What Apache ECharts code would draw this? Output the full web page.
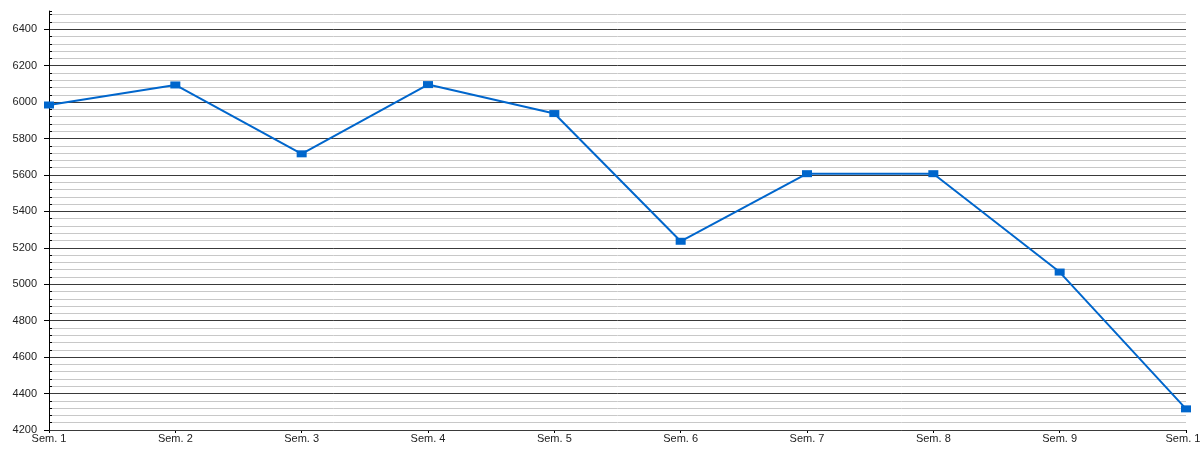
<html lang="en">

<head>
    <meta charset="UTF-8">
    <title>Semaines</title>
    <script src="https://cdn.jsdelivr.net/npm/echarts@6.0.0/dist/echarts.min.js"></script>
    <style>
        html, body { margin: 0; padding: 0; background: #fff; }
        #my-chart { width: 1200px; height: 450px; }
    </style>
</head>

<body>
    <div id="my-chart"></div>
    <script>
        const categories = ['Sem. 1', 'Sem. 2', 'Sem. 3', 'Sem. 4', 'Sem. 5', 'Sem. 6', 'Sem. 7', 'Sem. 8', 'Sem. 9', 'Sem. 10'];
        const values = [5984, 6094, 5716, 6096, 5937, 5236, 5607, 5607, 5067, 4316];
        const yTicks = [4200, 4400, 4600, 4800, 5000, 5200, 5400, 5600, 5800, 6000, 6200, 6400];
        const yMin = 4200, yMax = 6500, yStep = 200, yMinorStep = 40;

        window.onload = function () {
            const chart = echarts.init(document.getElementById('my-chart'));
            const font = { fontFamily: 'Liberation Sans, Arial, sans-serif', fontSize: 11, color: '#222' };

            // one colour per tick, last one (the axis max) left blank
            const majorColors = yTicks.map(() => '#3a3a3a').concat(['rgba(0,0,0,0)']);
            const minorCount = Math.floor((yMax - yMin - 1) / yMinorStep) + 1;
            const minorColors = new Array(minorCount).fill('#c8c8c8').concat(['rgba(0,0,0,0)']);

            const option = {
                animation: false,
                grid: { left: 49, right: 14, top: 11, bottom: 20, containLabel: false, outerBoundsMode: 'none' },
                xAxis: {
                    type: 'category',
                    data: categories,
                    boundaryGap: false,
                    axisLine: { lineStyle: { color: '#000', width: 1 } },
                    axisTick: { alignWithLabel: true, length: 3, lineStyle: { color: '#000' } },
                    axisLabel: Object.assign({ margin: 3, interval: 0 }, font),
                    splitLine: { show: false }
                },
                yAxis: [
                    {
                        type: 'value',
                        min: yMin,
                        max: yMax,
                        interval: yStep,
                        z: 3,
                        axisLine: { show: true, lineStyle: { color: '#000', width: 1 } },
                        axisTick: { show: true, length: 5, customValues: yTicks, lineStyle: { color: '#000' } },
                        axisLabel: Object.assign({
                            margin: 12,
                            customValues: yTicks,
                            formatter: v => String(v)
                        }, font),
                        splitLine: { show: true, lineStyle: { color: majorColors, width: 1 } }
                    },
                    {
                        type: 'value',
                        min: yMin,
                        max: yMax,
                        interval: yMinorStep,
                        position: 'left',
                        z: 2,
                        axisLine: { show: false },
                        axisTick: { show: true, inside: true, length: 3, lineStyle: { color: '#000' } },
                        axisLabel: { show: false },
                        splitLine: { show: true, lineStyle: { color: minorColors, width: 1 } }
                    }
                ],
                series: [
                    {
                        type: 'line',
                        yAxisIndex: 0,
                        data: values,
                        symbol: 'rect',
                        symbolSize: [10, 7],
                        showAllSymbol: true,
                        lineStyle: { color: '#0066cc', width: 2 },
                        itemStyle: { color: '#0066cc' },
                        clip: false,
                        z: 5
                    }
                ]
            };

            chart.setOption(option);
        };
    </script>
</body>

</html>
